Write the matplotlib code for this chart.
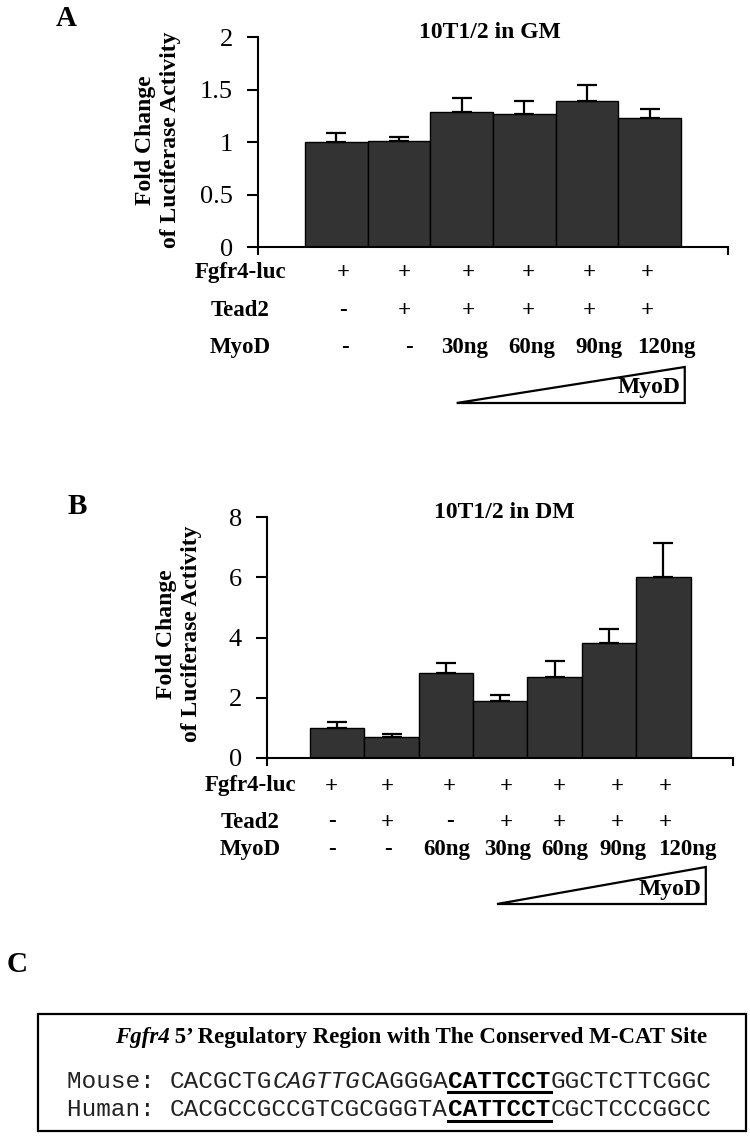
import matplotlib
matplotlib.use("Agg")
import matplotlib.pyplot as plt
from matplotlib.transforms import blended_transform_factory
from matplotlib.patches import Polygon, Rectangle
from matplotlib.lines import Line2D

# ---- panel A : 10T1/2 in GM ----
a_values = [1.00, 1.01, 1.29, 1.27, 1.39, 1.23]
a_errors = [0.09, 0.04, 0.13, 0.12, 0.15, 0.08]
a_fgfr4 = ['+', '+', '+', '+', '+', '+']
a_tead2 = ['-', '+', '+', '+', '+', '+']
a_myod = ['-', '-', '30ng', '60ng', '90ng', '120ng']
a_yticks = [0, 0.5, 1, 1.5, 2]
a_yticklabels = ['0', '0.5', '1', '1.5', '2']

# ---- panel B : 10T1/2 in DM ----
b_values = [1.00, 0.70, 2.83, 1.88, 2.70, 3.82, 6.02]
b_errors = [0.18, 0.11, 0.33, 0.20, 0.53, 0.45, 1.12]
b_fgfr4 = ['+', '+', '+', '+', '+', '+', '+']
b_tead2 = ['-', '+', '-', '+', '+', '+', '+']
b_myod = ['-', '-', '60ng', '30ng', '60ng', '90ng', '120ng']
b_yticks = [0, 2, 4, 6, 8]
b_yticklabels = ['0', '2', '4', '6', '8']

# ---- panel C : sequences ----
mouse_seq = [('CACGCTG', 'plain'), ('CAGTTG', 'italic'), ('CAGGGA', 'plain'),
             ('CATTCCT', 'site'), ('GGCTCTTCGGC', 'plain')]
human_seq = [('CACGCCGCCGTCGCGGGTA', 'plain'), ('CATTCCT', 'site'),
             ('CGCTCCCGGCC', 'plain')]

plt.rcParams['font.family'] = ['Liberation Serif', 'DejaVu Serif']

W, H = 750, 1137
fig = plt.figure(figsize=(W / 100, H / 100), dpi=100)


def fx(px):
    return px / W


def fy(py):
    return 1 - py / H


def bar_panel(rect, values, errors, xlim, ylim, yticks, yticklabels, title, title_x, title_y):
    ax = fig.add_axes(rect)
    x = list(range(len(values)))
    ax.bar(x, values, width=1.0, color='#333333', edgecolor='black', linewidth=1.0,
           yerr=[[0] * len(errors), errors],
           error_kw=dict(ecolor='black', elinewidth=1.6, capsize=7, capthick=1.6))
    ax.set_xlim(xlim)
    ax.set_ylim(ylim)
    ax.set_yticks(yticks)
    ax.set_yticklabels(yticklabels)
    ax.set_xticks(list(xlim))
    ax.set_xticklabels([])
    for s in ['top', 'right']:
        ax.spines[s].set_visible(False)
    for s in ['left', 'bottom']:
        ax.spines[s].set_linewidth(1.5)
    ax.tick_params(axis='y', direction='out', length=8, width=1.5, pad=10, labelsize=19)
    ax.tick_params(axis='x', direction='out', length=6, width=1.5)
    fig.text(fx(title_x), fy(title_y), title, ha='center', va='center',
             fontsize=17, fontweight='bold')
    return ax


def ylabel(px, py):
    fig.text(fx(px), fy(py), 'Fold Change\nof Luciferase Activity', rotation=90,
             ha='center', va='center', fontsize=17, fontweight='bold',
             linespacing=1.2, multialignment='center')


def rows(ax, entries, label_x, row_y, cols):
    tr = blended_transform_factory(ax.transData, fig.transFigure)
    names = ['Fgfr4-luc', 'Tead2', 'MyoD']
    for name, items, py, cx in zip(names, entries, row_y, cols):
        fig.text(fx(label_x), fy(py), name, ha='center', va='center',
                 fontsize=16.5, fontweight='bold')
        for item, c in zip(items, cx):
            ax.text(c, fy(py), item, transform=tr, ha='center', va='center',
                    fontsize=16.5, fontweight='bold', clip_on=False)


def wedge(ax, x0, x1, y_top, y_bot, text_x, text_y):
    tr = blended_transform_factory(ax.transData, fig.transFigure)
    tri = Polygon([(x0, fy(y_bot)), (x1, fy(y_top)), (x1, fy(y_bot))], closed=True,
                  facecolor='white', edgecolor='black', linewidth=1.6, transform=tr)
    fig.add_artist(tri)
    fig.text(fx(text_x), fy(text_y), 'MyoD', ha='center', va='center',
             fontsize=17, fontweight='bold')


# ----- panel A -----
axA = bar_panel([fx(258), fy(247), (728 - 258) / W, (247 - 37) / H],
                a_values, a_errors, (-1.25, 6.25), (0, 2), a_yticks, a_yticklabels,
                '10T1/2 in GM', 490, 33)
ylabel(158, 140)
rows(axA, [a_fgfr4, a_tead2, a_myod], 240, [273, 310, 347],
     [[0.11, 1.09, 2.10, 3.07, 4.04, 4.97],
      [0.11, 1.09, 2.10, 3.07, 4.04, 4.97],
      [0.14, 1.16, 2.05, 3.12, 4.19, 5.27]])
wedge(axA, 1.92, 5.56, 367, 403, 649, 387)
fig.text(fx(66), fy(19), 'A', ha='center', va='center', fontsize=21, fontweight='bold')

# ----- panel B -----
axB = bar_panel([fx(267), fy(758), (733 - 267) / W, (758 - 517) / H],
                b_values, b_errors, (-1.29, 7.28), (0, 8), b_yticks, b_yticklabels,
                '10T1/2 in DM', 504, 513)
ylabel(179, 634)
rows(axB, [b_fgfr4, b_tead2, b_myod], 250, [786, 822, 850],
     [[-0.10, 0.93, 2.07, 3.12, 4.08, 5.16, 6.04],
      [-0.10, 0.93, 2.07, 3.12, 4.08, 5.16, 6.04],
      [-0.10, 0.93, 2.02, 3.14, 4.19, 5.25, 6.45]])
wedge(axB, 2.94, 6.78, 867, 904, 670, 889)
fig.text(fx(77), fy(507), 'B', ha='center', va='center', fontsize=21, fontweight='bold')

# ----- panel C -----
fig.text(fx(17), fy(964), 'C', ha='center', va='center', fontsize=21, fontweight='bold')
fig.add_artist(Rectangle((fx(38), fy(1131)), (746 - 38) / W, (1131 - 1014) / H,
                         fill=False, edgecolor='black', linewidth=1.6,
                         transform=fig.transFigure))

renderer = fig.canvas.get_renderer()
t1 = fig.text(0, fy(1038), 'Fgfr4', ha='left', va='center', fontsize=16.5,
              fontweight='bold', fontstyle='italic')
t2 = fig.text(0, fy(1038), ' 5\u2019 Regulatory Region with The Conserved M-CAT Site',
              ha='left', va='center', fontsize=16.5, fontweight='bold')
w1 = t1.get_window_extent(renderer).width
w2 = t2.get_window_extent(renderer).width
start = 411 - (w1 + w2) / 2
t1.set_x(fx(start))
t2.set_x(fx(start + w1))

mono = 'Liberation Mono'
mono_size = 17.6
cw = 0.6 * mono_size * 100 / 72  # advance per character in px
seq_x0 = 67


def seq_line(name, segments, py, uy):
    fig.text(fx(seq_x0), fy(py), name, ha='left', va='center', family=mono,
             fontsize=mono_size, color='#222222')
    n = len(name)
    for seg, kind in segments:
        style = 'italic' if kind == 'italic' else 'normal'
        weight = 'bold' if kind == 'site' else 'normal'
        color = 'black' if kind == 'site' else '#222222'
        fig.text(fx(seq_x0 + n * cw), fy(py), seg, ha='left', va='center', family=mono,
                 fontsize=mono_size, fontstyle=style, fontweight=weight, color=color)
        if kind == 'site':
            fig.add_artist(Line2D([fx(seq_x0 + n * cw), fx(seq_x0 + (n + len(seg)) * cw)],
                                  [fy(uy), fy(uy)], color='black', linewidth=2.2,
                                  transform=fig.transFigure))
        n += len(seg)


seq_line('Mouse: ', mouse_seq, 1082, 1092)
seq_line('Human: ', human_seq, 1110, 1121)

fig.savefig('out.png', dpi=100)
